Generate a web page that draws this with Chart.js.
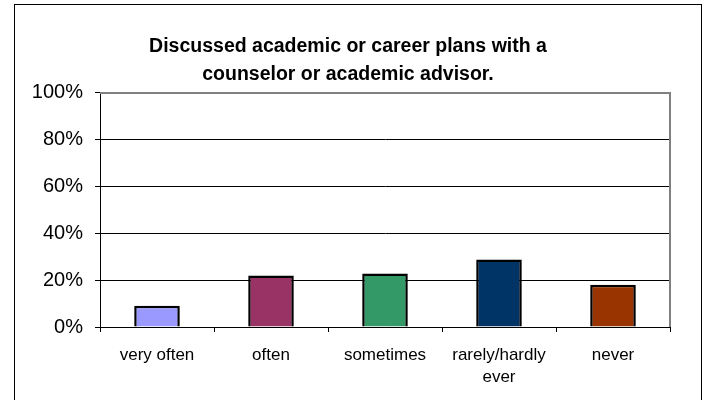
<!DOCTYPE html>
<html>
<head>
<meta charset="utf-8">
<script src="https://cdn.jsdelivr.net/npm/chart.js@4/dist/chart.umd.min.js"></script>
<style>
    body { margin: 0; background: #fff; }
    canvas { display: block; }
</style>
</head>
<body>
<canvas id="myChart" width="705" height="400"></canvas>
<script>
// Chart data
const categories = ['very often', 'often', 'sometimes', ['rarely/hardly', 'ever'], 'never'];
const percents = [9.1, 22.0, 22.9, 28.8, 18.1];
const barColors = ['#9999FF', '#993366', '#339966', '#003366', '#993300'];
const yTicks = [0, 20, 40, 60, 80, 100];
const titleLines = ['Discussed academic or career plans with a', 'counselor or academic advisor.'];

const fontFamily = '"Liberation Sans", Arial, sans-serif';

// outer frame + grey plot border on top/right
const framePlugin = {
    id: 'frame',
    beforeDraw(chart) {
        const ctx = chart.ctx;
        ctx.save();
        ctx.fillStyle = '#fff';
        ctx.fillRect(0, 0, chart.width, chart.height);
        ctx.strokeStyle = '#000';
        ctx.lineWidth = 1;
        ctx.strokeRect(14.5, 4.5, 687, 420);
        ctx.restore();
    },
    afterDatasetsDraw(chart) {
        const { ctx, chartArea } = chart;
        ctx.save();
        ctx.strokeStyle = '#808080';
        ctx.lineWidth = 2;
        ctx.beginPath();
        ctx.moveTo(chartArea.left, chartArea.top);
        ctx.lineTo(chartArea.right, chartArea.top);
        ctx.lineTo(chartArea.right, chartArea.bottom);
        ctx.stroke();
        ctx.restore();
    }
};

new Chart(document.getElementById('myChart'), {
    type: 'bar',
    data: {
        labels: categories,
        datasets: [{
            data: percents,
            backgroundColor: barColors,
            borderColor: '#000',
            borderWidth: 2.5,
            barPercentage: 0.4,
            categoryPercentage: 1
        }]
    },
    options: {
        responsive: false,
        animation: false,
        // left padding shifts the title centre; y axis width keeps plot at x=100
        layout: { padding: { left: 26, right: 35, top: 0, bottom: 0 } },
        plugins: {
            legend: { display: false },
            tooltip: { enabled: false },
            title: {
                display: true,
                text: titleLines,
                color: '#000',
                font: { family: fontFamily, size: 19.5, weight: 'bold', lineHeight: 1.42 },
                padding: { top: 33.2, bottom: 4.4 }
            }
        },
        scales: {
            x: {
                grid: {
                    offset: true,
                    drawOnChartArea: false,
                    drawTicks: true,
                    tickLength: 5,
                    color: '#000'
                },
                border: { color: '#000', width: 1 },
                ticks: {
                    color: '#000',
                    padding: 12,
                    maxRotation: 0,
                    autoSkip: false,
                    font: { family: fontFamily, size: 17, lineHeight: 1.3 }
                },
                afterFit(scale) { scale.height = 73; }
            },
            y: {
                min: 0,
                max: 100,
                afterBuildTicks(scale) {
                    scale.ticks = yTicks.map(v => ({ value: v }));
                },
                grid: {
                    color: c => c.tick && c.tick.value === 100 ? 'rgba(0,0,0,0)' : '#000',
                    tickColor: '#000',
                    tickLength: 5,
                    lineWidth: 1
                },
                border: { color: '#000', width: 1 },
                ticks: {
                    color: '#000',
                    padding: 12,
                    font: { family: fontFamily, size: 20 },
                    callback: v => v + '%'
                },
                afterFit(scale) { scale.width = 74; }
            }
        }
    },
    plugins: [framePlugin]
});
</script>
</body>
</html>
